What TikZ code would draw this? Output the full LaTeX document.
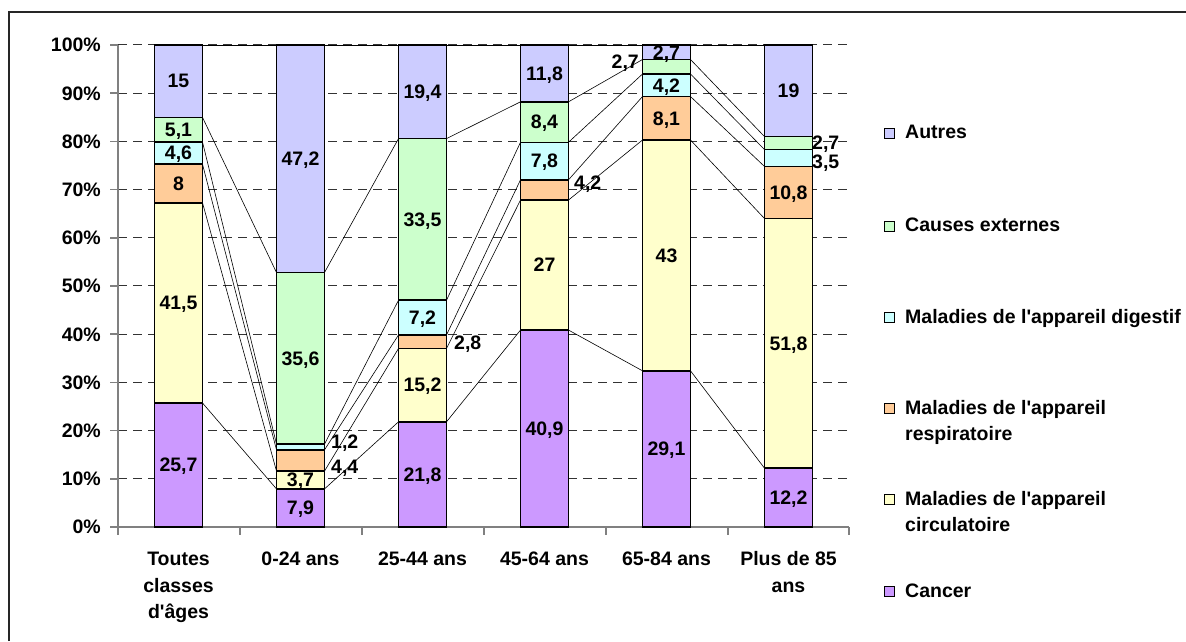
\documentclass[tikz,border=0pt]{standalone}
\usepackage{fontspec}
\setmainfont{Liberation Sans}
\definecolor{cAut}{HTML}{CCCCFF}
\definecolor{cExt}{HTML}{CCFFCC}
\definecolor{cDig}{HTML}{CCFFFF}
\definecolor{cRes}{HTML}{FFCC99}
\definecolor{cCir}{HTML}{FFFFCC}
\definecolor{cCan}{HTML}{CC99FF}
\definecolor{axgray}{HTML}{808080}
\newcommand\apos{\textquotesingle}
\tikzset{
  txt/.style={font=\fontsize{19.5}{23}\selectfont\bfseries, inner sep=0pt, text depth=0pt},
  val/.style={txt, anchor=center},
  outval/.style={txt, anchor=west},
  cat/.style={txt, anchor=base},
  ylab/.style={txt, anchor=east},
  legtxt/.style={txt, anchor=base west},
  legsq/.style={draw=black, line width=0.9pt, minimum size=10pt, inner sep=0pt},
  barseg/.style={draw=black, line width=1.5pt},
  serline/.style={draw=black, line width=0.6pt},
  gridl/.style={draw=black!80, line width=1pt, dash pattern=on 9pt off 6pt},
  axisl/.style={draw=axgray, line width=1.5pt},
  frameline/.style={draw=black!85, line width=1.6pt}
}
\newcommand\stackbar[8]{%
  \pgfmathsetmacro\qqS{(#3+#4+#5+#6+#7+#8)/100}%
  \pgfmathsetmacro\qqA{#3/\qqS}%
  \pgfmathsetmacro\qqB{(#3+#4)/\qqS}%
  \pgfmathsetmacro\qqC{(#3+#4+#5)/\qqS}%
  \pgfmathsetmacro\qqD{(#3+#4+#5+#6)/\qqS}%
  \pgfmathsetmacro\qqE{(#3+#4+#5+#6+#7)/\qqS}%
  \draw[barseg,fill=cCan] ({#2-24},0) rectangle ({#2+24},\qqA);
  \draw[barseg,fill=cCir] ({#2-24},\qqA) rectangle ({#2+24},\qqB);
  \draw[barseg,fill=cRes] ({#2-24},\qqB) rectangle ({#2+24},\qqC);
  \draw[barseg,fill=cDig] ({#2-24},\qqC) rectangle ({#2+24},\qqD);
  \draw[barseg,fill=cExt] ({#2-24},\qqD) rectangle ({#2+24},\qqE);
  \draw[barseg,fill=cAut] ({#2-24},\qqE) rectangle ({#2+24},100);
  \coordinate (#1-1-L) at ({#2-24},\qqA); \coordinate (#1-1-R) at ({#2+24},\qqA);
  \coordinate (#1-2-L) at ({#2-24},\qqB); \coordinate (#1-2-R) at ({#2+24},\qqB);
  \coordinate (#1-3-L) at ({#2-24},\qqC); \coordinate (#1-3-R) at ({#2+24},\qqC);
  \coordinate (#1-4-L) at ({#2-24},\qqD); \coordinate (#1-4-R) at ({#2+24},\qqD);
  \coordinate (#1-5-L) at ({#2-24},\qqE); \coordinate (#1-5-R) at ({#2+24},\qqE);
  \coordinate (#1-6-L) at ({#2-24},100); \coordinate (#1-6-R) at ({#2+24},100);
  \coordinate (#1-1-M) at (#2,{\qqA/2});
  \coordinate (#1-2-M) at (#2,{(\qqA+\qqB)/2});
  \coordinate (#1-3-M) at (#2,{(\qqB+\qqC)/2});
  \coordinate (#1-4-M) at (#2,{(\qqC+\qqD)/2});
  \coordinate (#1-5-M) at (#2,{(\qqD+\qqE)/2});
  \coordinate (#1-6-M) at (#2,{(\qqE+100)/2});
}
\begin{document}
\begin{tikzpicture}[x=1pt,y=1pt]
\useasboundingbox (0,0) rectangle (1186,641);
\draw[frameline] (9,0) -- (9,629) -- (1186,629);
\begin{scope}[shift={(0,114)}, y=4.82pt]
  % gridlines
  \foreach \p in {10,20,...,100} {\draw[gridl] (118,\p) -- (849,\p);}
  % axes
  \draw[axisl] (118,0) -- (118,100);
  \foreach \p in {0,10,...,100} {\draw[axisl] (110,\p) -- (118,\p);
    \node[ylab] (ylab\p) at (101,\p) {\p\%};}
  \draw[axisl] (118,0) -- (849,0);
  \foreach \xx in {118,240,362,484,606,728,849} {\draw[axisl] (\xx,0) -- ++(0,-8pt);}
  % bars
  \stackbar{b1}{178.5}{25.7}{41.5}{8}{4.6}{5.1}{15}
  \stackbar{b2}{300.5}{7.9}{3.7}{4.4}{1.2}{35.6}{47.2}
  \stackbar{b3}{422.5}{21.8}{15.2}{2.8}{7.2}{33.5}{19.4}
  \stackbar{b4}{544.5}{40.9}{27}{4.2}{7.8}{8.4}{11.8}
  \stackbar{b5}{666.5}{29.1}{43}{8.1}{4.2}{2.7}{2.7}
  \stackbar{b6}{788.5}{12.2}{51.8}{10.8}{3.5}{2.7}{19}
  % series lines
  \foreach \i/\j in {b1/b2,b2/b3,b3/b4,b4/b5,b5/b6} {
    \foreach \k in {1,...,6} {\draw[serline] (\i-\k-R) -- (\j-\k-L);}
  }
  % inside labels
  \node[val] (v11) at (b1-1-M) {25,7};
  \node[val] (v12) at (b1-2-M) {41,5};
  \node[val] (v13) at (b1-3-M) {8};
  \node[val] (v14) at (b1-4-M) {4,6};
  \node[val] (v15) at (b1-5-M) {5,1};
  \node[val] (v16) at (b1-6-M) {15};
  \node[val] (v21) at (b2-1-M) {7,9};
  \node[val] (v22) at (b2-2-M) {3,7};
  \node[val] (v25) at (b2-5-M) {35,6};
  \node[val] (v26) at (b2-6-M) {47,2};
  \node[val] (v31) at (b3-1-M) {21,8};
  \node[val] (v32) at (b3-2-M) {15,2};
  \node[val] (v34) at (b3-4-M) {7,2};
  \node[val] (v35) at (b3-5-M) {33,5};
  \node[val] (v36) at (b3-6-M) {19,4};
  \node[val] (v41) at (b4-1-M) {40,9};
  \node[val] (v42) at (b4-2-M) {27};
  \node[val] (v44) at (b4-4-M) {7,8};
  \node[val] (v45) at (b4-5-M) {8,4};
  \node[val] (v46) at (b4-6-M) {11,8};
  \node[val] (v51) at (b5-1-M) {29,1};
  \node[val] (v52) at (b5-2-M) {43};
  \node[val] (v53) at (b5-3-M) {8,1};
  \node[val] (v54) at (b5-4-M) {4,2};
  \node[val] (v56) at (b5-6-M) {2,7};
  \node[val] (v61) at (b6-1-M) {12,2};
  \node[val] (v62) at (b6-2-M) {51,8};
  \node[val] (v63) at (b6-3-M) {10,8};
  \node[val] (v66) at (b6-6-M) {19};
\end{scope}
% outside labels
\node[outval] (v24) at (331,199) {1,2};
\node[outval] (v23) at (331,174) {4,4};
\node[outval] (v33) at (454,298) {2,8};
\node[outval] (v43) at (574,458) {4,2};
\node[txt, anchor=east] (v55) at (639,579) {2,7};
\node[outval] (v65) at (812,498) {2,7};
\node[outval] (v64) at (812,479) {3,5};
% category labels
\node[cat] (c1a) at (178.5,76) {Toutes};
\node[cat] (c1b) at (178.5,49) {classes};
\node[cat] (c1c) at (178.5,23) {d\apos âges};
\node[cat] (c2) at (300.5,76) {0-24 ans};
\node[cat] (c3) at (422.5,76) {25-44 ans};
\node[cat] (c4) at (544.5,76) {45-64 ans};
\node[cat] (c5) at (666.5,76) {65-84 ans};
\node[cat] (c6a) at (788.5,76) {Plus de 85};
\node[cat] (c6b) at (788.5,49) {ans};
% legend
\node[legsq, fill=cAut] (sqA) at (889.5,507.5) {};
\node[legtxt] (tA) at (905,502) {Autres};
\node[legsq, fill=cExt] (sqE) at (889.5,414.5) {};
\node[legtxt] (tE) at (905,409) {Causes externes};
\node[legsq, fill=cDig] (sqD) at (889.5,323.5) {};
\node[legtxt] (tD) at (905,318) {Maladies de l\apos appareil digestif};
\node[legsq, fill=cRes] (sqR) at (889.5,232.5) {};
\node[legtxt] (tR1) at (905,227) {Maladies de l\apos appareil};
\node[legtxt] (tR2) at (905,201) {respiratoire};
\node[legsq, fill=cCir] (sqC) at (889.5,141.5) {};
\node[legtxt] (tC1) at (905,136) {Maladies de l\apos appareil};
\node[legtxt] (tC2) at (905,110) {circulatoire};
\node[legsq, fill=cCan] (sqK) at (889.5,49.5) {};
\node[legtxt] (tK) at (905,44) {Cancer};
\end{tikzpicture}
\end{document}
